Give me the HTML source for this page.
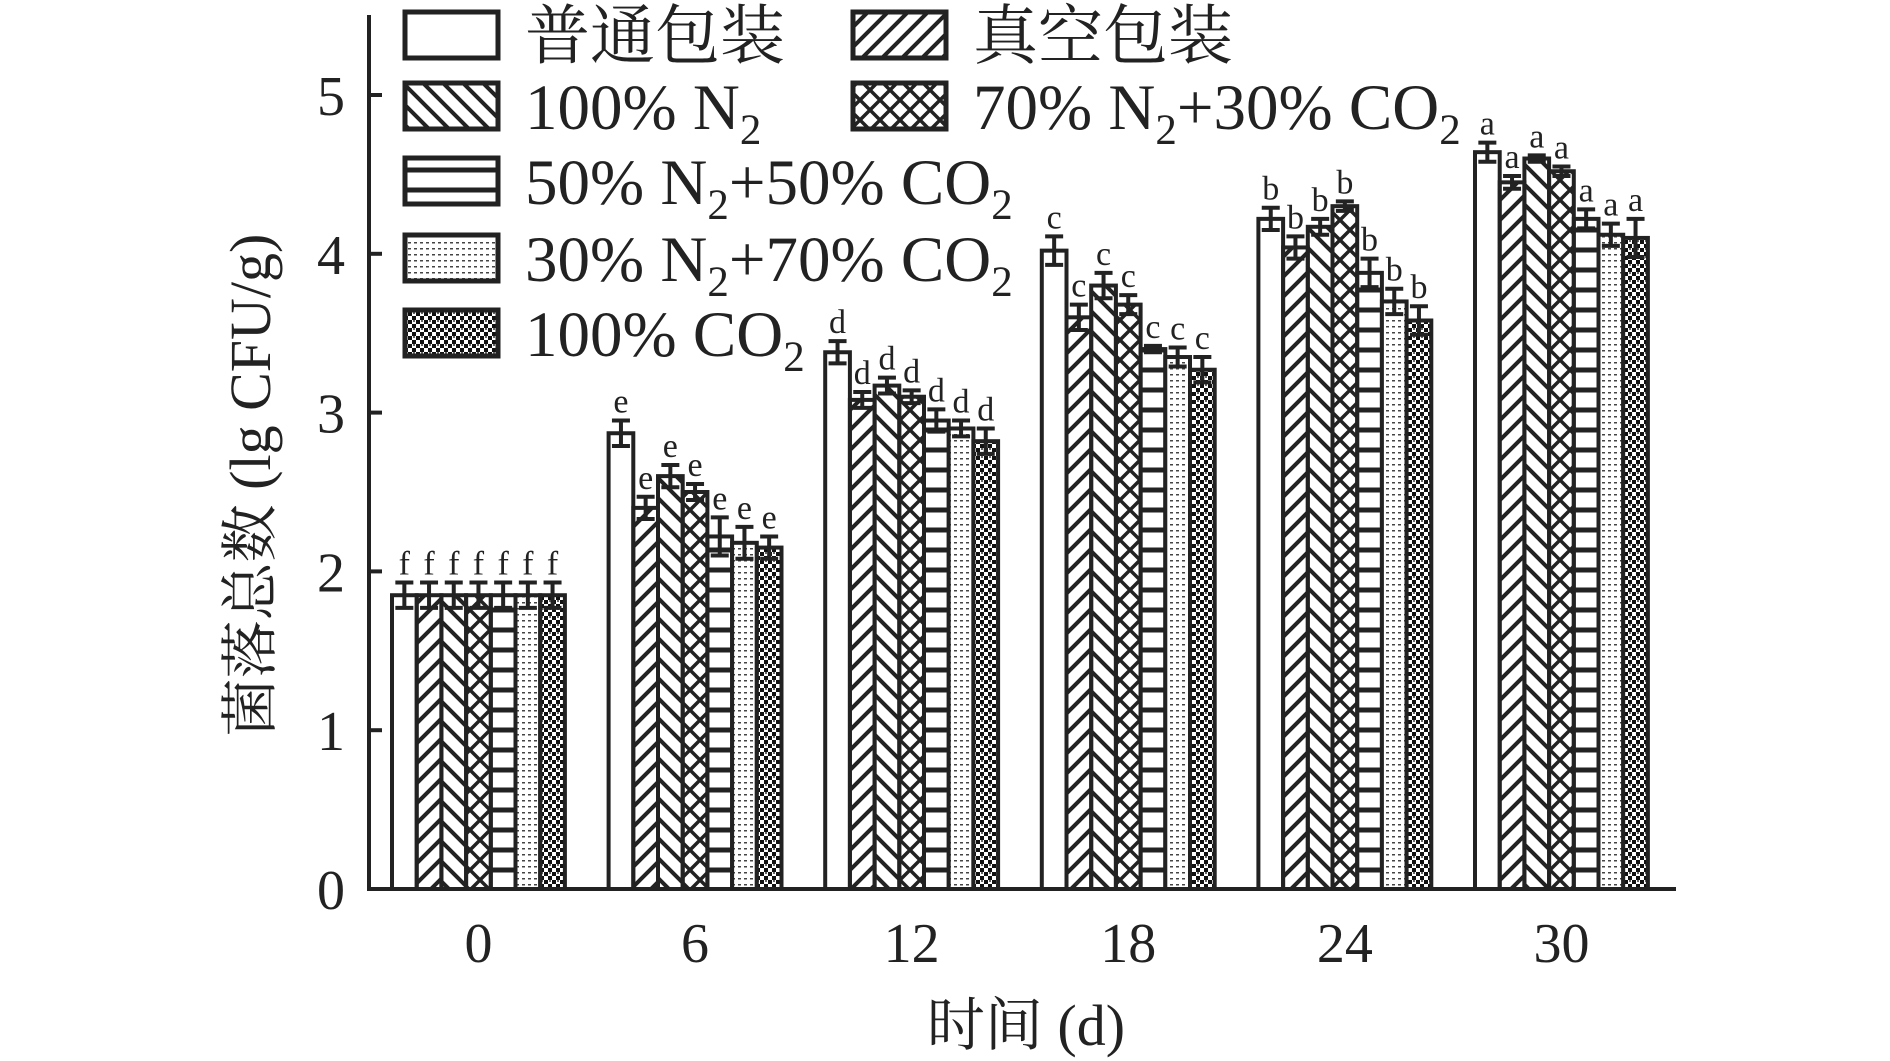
<!DOCTYPE html>
<html><head><meta charset="utf-8"><style>
html,body{margin:0;padding:0;background:#fff;}
svg{display:block;font-family:"Liberation Serif","Noto Serif CJK SC",serif;}
</style></head><body>
<svg id="chart" width="1890" height="1061" viewBox="0 0 1890 1061" xmlns="http://www.w3.org/2000/svg">
<defs>
<pattern id="p1" patternUnits="userSpaceOnUse" width="20" height="20"><path d="M-5,25 L25,-5 M-5,5 L5,-5 M15,25 L25,15" stroke="#222" stroke-width="4"/></pattern>
<pattern id="p2" patternUnits="userSpaceOnUse" width="20" height="20"><path d="M-5,-5 L25,25 M15,-5 L25,5 M-5,15 L5,25" stroke="#222" stroke-width="4"/></pattern>
<pattern id="p3" patternUnits="userSpaceOnUse" width="20" height="20"><path d="M-5,-5 L25,25 M-5,25 L25,-5" stroke="#222" stroke-width="3.5"/></pattern>
<pattern id="p4" patternUnits="userSpaceOnUse" width="20" height="20"><path d="M0,10 L20,10" stroke="#222" stroke-width="5"/></pattern>
<pattern id="p5" patternUnits="userSpaceOnUse" width="6" height="6"><rect width="6" height="6" fill="#fff"/><rect x="0" y="2" width="3" height="1.5" fill="#444"/></pattern>
<pattern id="p6" patternUnits="userSpaceOnUse" width="8" height="8"><rect width="8" height="8" fill="#fff"/><rect width="4" height="4" fill="#111"/><rect x="4" y="4" width="4" height="4" fill="#111"/><rect x="5" y="0" width="2" height="2" fill="#666"/></pattern>
</defs>
<g id="plot"></g>
<g id="legend"></g>
</svg>
<script>
const days = ["0","6","12","18","24","30"];
const seriesNames = ["普通包装","真空包装","100% N2","70% N2+30% CO2","50% N2+50% CO2","30% N2+70% CO2","100% CO2"];
const s0 = [1.85,2.87,3.38,4.02,4.22,4.64];
const s1 = [1.85,2.40,3.08,3.60,4.04,4.45];
const s2 = [1.85,2.60,3.17,3.80,4.17,4.60];
const s3 = [1.85,2.50,3.10,3.68,4.30,4.52];
const s4 = [1.85,2.22,2.95,3.40,3.88,4.22];
const s5 = [1.85,2.18,2.90,3.35,3.70,4.12];
const s6 = [1.85,2.15,2.82,3.27,3.58,4.10];
const e0 = [0.08,0.08,0.07,0.09,0.07,0.06];
const e1 = [0.08,0.07,0.05,0.08,0.07,0.04];
const e2 = [0.08,0.07,0.05,0.08,0.05,0.02];
const e3 = [0.08,0.05,0.04,0.06,0.03,0.03];
const e4 = [0.08,0.12,0.07,0.02,0.09,0.06];
const e5 = [0.08,0.10,0.05,0.06,0.08,0.07];
const e6 = [0.08,0.07,0.08,0.08,0.09,0.12];
const sigLetters = [["f","f","f","f","f","f","f"],["e","e","e","e","e","e","e"],["d","d","d","d","d","d","d"],["c","c","c","c","c","c","c"],["b","b","b","b","b","b","b"],["a","a","a","a","a","a","a"]];
const yTicks = [0,1,2,3,4,5];
const series=[s0,s1,s2,s3,s4,s5,s6], errs=[e0,e1,e2,e3,e4,e5,e6];
const fills=["#fff","url(#p1)","url(#p2)","url(#p3)","url(#p4)","url(#p5)","url(#p6)"];
const NS="http://www.w3.org/2000/svg";
const X0=369,Y0=889,UNIT=158.8,XEND=1676,G0=392,GS=216.6,BW=24.7;
const y=v=>Y0-v*UNIT;
const bx=(g,i)=>G0+g*GS+i*BW;
function mk(tag,attrs,parent){const e=document.createElementNS(NS,tag);for(const k in attrs)e.setAttribute(k,attrs[k]);parent.appendChild(e);return e;}
const plot=document.getElementById('plot');
const S="#222";
days.forEach((d,g)=>{
  series.forEach((s,i)=>{
    const v=s[g],er=errs[i][g],x=bx(g,i);
    const r=mk('rect',{x:x,y:y(v),width:BW,height:Y0-y(v),fill:fills[i],stroke:S,'stroke-width':4},plot);
    
    
    const cx=x+BW/2;
    const eb=mk('path',{d:`M${cx},${y(v-er)}L${cx},${y(v+er)}M${cx-9},${y(v+er)}L${cx+9},${y(v+er)}M${cx-9},${y(v-er)}L${cx+9},${y(v-er)}`,stroke:S,'stroke-width':4,fill:'none'},plot);
    
    
    const t=mk('text',{x:cx,y:y(v+er)-8,'font-size':34,'text-anchor':'middle',fill:S},plot);
    
    
    t.textContent=sigLetters[g][i];
  });
  const lx=G0+g*GS+3.5*BW;
  const tl=mk('text',{x:lx,y:962,'font-size':56,'text-anchor':'middle',fill:S},plot);
  
  
  tl.textContent=d;
});
const ax=mk('path',{d:`M${X0},15L${X0},${Y0}L${XEND},${Y0}`,stroke:S,'stroke-width':4,fill:'none'},plot);


yTicks.forEach(v=>{
  const tk=mk('path',{d:`M${X0},${y(v)}L${X0+13},${y(v)}`,stroke:S,'stroke-width':4},plot);
  
  
  const tl=mk('text',{x:345,y:y(v)+20,'font-size':56,'text-anchor':'end',fill:S},plot);
  
  
  tl.textContent=v;
});
const yt=mk('text',{x:0,y:0,'font-size':58,'text-anchor':'middle',fill:S,transform:'translate(270,485) rotate(-90)'},plot);


yt.textContent='菌落总数 (lg CFU/g)';
const xt=mk('text',{x:1026,y:1045,'font-size':58,'text-anchor':'middle',fill:S},plot);


xt.textContent='时间 (d)';
// legend
const leg=document.getElementById('legend');
const pos=[[405,12],[853,12],[405,83],[853,83],[405,158],[405,235],[405,310]];
seriesNames.forEach((n,i)=>{
  const [lx,ly]=pos[i];
  const e=mk('g',{},leg);
  
  
  mk('rect',{x:lx,y:ly,width:93,height:46,fill:fills[i],stroke:S,'stroke-width':5},e);
  const t=mk('text',{x:lx+120,y:ly+46,'font-size':65,fill:S},e);
  const parts=n.split(/(N2|CO2)/);
  let lowered=false;
  parts.forEach(p=>{
    if(!p) return;
    if(p==='N2'||p==='CO2'){
      const a=document.createElementNS(NS,'tspan');a.textContent=p.slice(0,-1);
      if(lowered){a.setAttribute('dy','-15');}
      t.appendChild(a);
      const b=document.createElementNS(NS,'tspan');b.setAttribute('font-size','43');b.setAttribute('dy','15');b.textContent='2';t.appendChild(b);
      lowered=true;
    } else {
      const a=document.createElementNS(NS,'tspan');a.textContent=p;
      if(lowered){a.setAttribute('dy','-15');lowered=false;}
      t.appendChild(a);
    }
  });
});
</script>
</body></html>
